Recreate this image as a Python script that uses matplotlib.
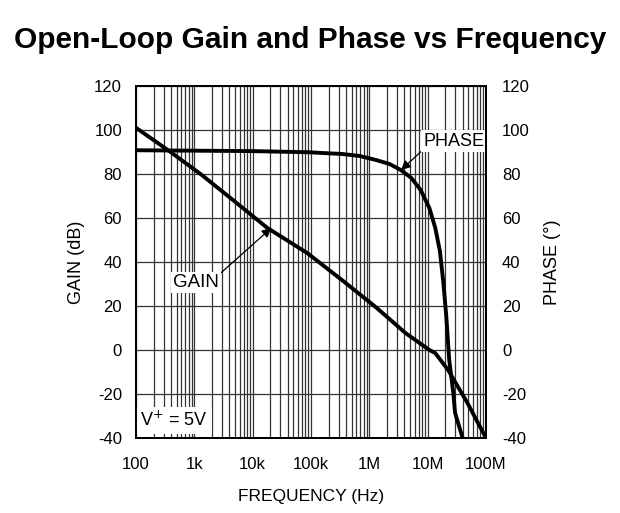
import numpy as np
import matplotlib.pyplot as plt
from matplotlib.ticker import FixedLocator, NullFormatter, LogLocator

# Data
gain_freq = [100, 347, 1350, 4680, 17800, 87000, 339e3, 1.29e6, 4.17e6,
             10.7e6, 13.5e6, 22.4e6, 47.9e6, 1e8]
gain_db = [101, 91, 79.5, 68, 55.5, 44, 31.8, 19.5, 7.7, 0, -1.4, -9.1, -24, -40]

phase_freq = [100, 1e3, 1e4, 87e3, 339e3, 676e3, 1.29e6, 2.24e6, 3.47e6, 5.25e6,
              7.59e6, 10.7e6, 13.5e6, 16.2e6, 18.6e6, 20.9e6, 23.4e6, 27.5e6,
              29.5e6, 39.8e6]
phase_deg = [90.8, 90.6, 90.4, 89.9, 89.1, 88.2, 86.4, 84.5, 81.8, 78.2,
             72.7, 64.5, 55.5, 45, 30.5, 15, -4.5, -19.5, -28.6, -40]

freq_ticks = [1e2, 1e3, 1e4, 1e5, 1e6, 1e7, 1e8]
freq_labels = ["100", "1k", "10k", "100k", "1M", "10M", "100M"]
y_ticks = [-40, -20, 0, 20, 40, 60, 80, 100, 120]

plt.rcParams['font.family'] = ['Liberation Sans', 'DejaVu Sans']
plt.rcParams['axes.unicode_minus'] = False

fig = plt.figure(figsize=(6.2, 5.13), dpi=100)
ax = fig.add_axes([136 / 620, 75 / 513, 350 / 620, 352 / 513])
ax2 = ax.twinx()

ax.set_xscale("log")
ax.set_xlim(1e2, 1e8)
for a in (ax, ax2):
    a.set_ylim(-40, 120)
    a.set_yticks(y_ticks)
    a.tick_params(axis="both", which="both", length=0, labelsize=12)

ax.xaxis.set_major_locator(FixedLocator(freq_ticks))
ax.set_xticklabels(freq_labels)
ax.xaxis.set_minor_locator(LogLocator(base=10, subs=np.arange(2, 10)))
ax.xaxis.set_minor_formatter(NullFormatter())
ax.tick_params(axis="x", pad=14)
ax.tick_params(axis="y", pad=10)
ax2.tick_params(axis="y", pad=11.5)

ax.grid(True, which="both", axis="x", color="0.2", lw=0.9)
ax.grid(True, which="major", axis="y", color="0.2", lw=0.9)
ax.set_axisbelow(True)

for a in (ax, ax2):
    for s in a.spines.values():
        s.set_linewidth(1.4)

ax.plot(gain_freq, gain_db, color="black", lw=2.8, solid_capstyle="butt", zorder=3)
ax.plot(phase_freq, phase_deg, color="black", lw=2.8, solid_capstyle="butt", zorder=3)

arrow = dict(arrowstyle="-|>", color="black", lw=0.9, mutation_scale=14,
             shrinkA=0, shrinkB=0)
box = dict(facecolor="white", edgecolor="none", pad=1.5)
ax.annotate("GAIN", xy=(20.9e3, 55.5), xytext=(1.08e3, 30.5), fontsize=13.5,
            ha="center", va="center", bbox=box,
            arrowprops=dict(arrow, relpos=(1.0, 1.0)), zorder=4)
ax.annotate("PHASE", xy=(3.5e6, 81.8), xytext=(2.8e7, 95), fontsize=13,
            ha="center", va="center", bbox=box,
            arrowprops=dict(arrow, relpos=(0.0, 0.0)), zorder=4)
ax.text(118, -32, r"V$^{+}$ = 5V", fontsize=13, ha="left", va="center",
        bbox=dict(facecolor="white", edgecolor="none", pad=3), zorder=4)

ax.set_ylabel("GAIN (dB)", fontsize=13, labelpad=7)
ax2.set_ylabel("PHASE (°)", fontsize=13, labelpad=10)
ax.set_xlabel("FREQUENCY (Hz)", fontsize=12.5, labelpad=12)

fig.suptitle("Open-Loop Gain and Phase vs Frequency", fontsize=21.5, fontweight="bold",
             va="center", y=1 - 40 / 513)

fig.savefig("out.png", dpi=100)
